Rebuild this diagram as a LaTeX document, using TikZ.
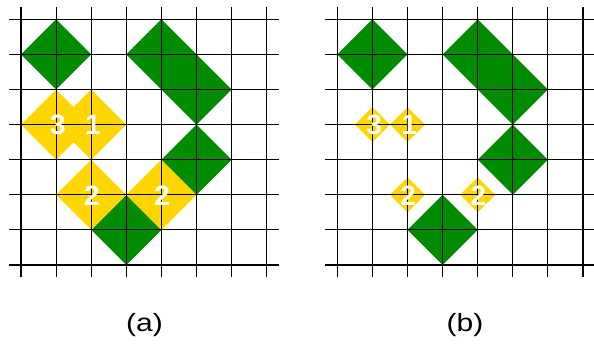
\documentclass[tikz,border=0pt]{standalone}
\usepackage{fontspec}
\setmainfont{Liberation Sans}
\definecolor{gr}{RGB}{0,139,0}
\definecolor{yl}{RGB}{255,214,0}
\tikzset{
  gridline/.style={black,line width=1.1pt},
  num/.style={text=white,font=\fontsize{28}{28}\selectfont\bfseries,inner sep=0pt},
  captext/.style={font=\fontsize{25}{25}\selectfont,inner sep=0pt},
  greenfill/.style={fill=gr},
  yellowfill/.style={fill=yl}
}
\begin{document}
\begin{tikzpicture}[x=1pt,y=-1pt]
\useasboundingbox (0,0) rectangle (594,343);
% ---------- panel (a) ----------
\begin{scope}[xshift=21pt,yshift=-19.3pt,x=35.1pt,y=-35.1pt]
  \fill[greenfill] (0,1)--(1,0)--(2,1)--(1,2)--cycle;
  \fill[greenfill] (3,1)--(4,0)--(6,2)--(5,3)--cycle;
  \fill[greenfill] (4,4)--(5,3)--(6,4)--(5,5)--cycle;
  \fill[greenfill] (2,6)--(3,5)--(4,6)--(3,7)--cycle;
  \foreach \cx/\cy in {1/3,2/3,2/5,4/5}
    \fill[yellowfill] (\cx-1,\cy)--(\cx,\cy-1)--(\cx+1,\cy)--(\cx,\cy+1)--cycle;
  \foreach \i in {0,...,7} {
    \draw[gridline] (\i,-0.34)--(\i,7.34);
    \draw[gridline] (-0.34,\i)--(7.34,\i);
  }
  \node[num] (a3) at (1.05,3.02) {3};
  \node[num] (a1) at (2.05,3.02) {1};
  \node[num] (a2l) at (2.02,5.02) {2};
  \node[num] (a2r) at (4.02,5.02) {2};
\end{scope}
% ---------- panel (b) ----------
\begin{scope}[xshift=337.3pt,yshift=-19.3pt,x=35.1pt,y=-35.1pt]
  \fill[greenfill] (0,1)--(1,0)--(2,1)--(1,2)--cycle;
  \fill[greenfill] (3,1)--(4,0)--(6,2)--(5,3)--cycle;
  \fill[greenfill] (4,4)--(5,3)--(6,4)--(5,5)--cycle;
  \fill[greenfill] (2,6)--(3,5)--(4,6)--(3,7)--cycle;
  \foreach \cx/\cy in {1/3,2/3,2/5,4/5}
    \fill[yellowfill] (\cx-0.5,\cy)--(\cx,\cy-0.5)--(\cx+0.5,\cy)--(\cx,\cy+0.5)--cycle;
  \foreach \i in {0,...,7} {
    \draw[gridline] (\i,-0.34)--(\i,7.34);
    \draw[gridline] (-0.34,\i)--(7.34,\i);
  }
  \node[num] (b3) at (1.05,3.02) {3};
  \node[num] (b1) at (2.05,3.02) {1};
  \node[num] (b2l) at (2.02,5.02) {2};
  \node[num] (b2r) at (4.02,5.02) {2};
\end{scope}
\node[captext] (capa) at (144.5,325) {\scalebox{1.2}[1]{(a)}};
\node[captext] (capb) at (465,325) {\scalebox{1.2}[1]{(b)}};
\end{tikzpicture}
\end{document}
